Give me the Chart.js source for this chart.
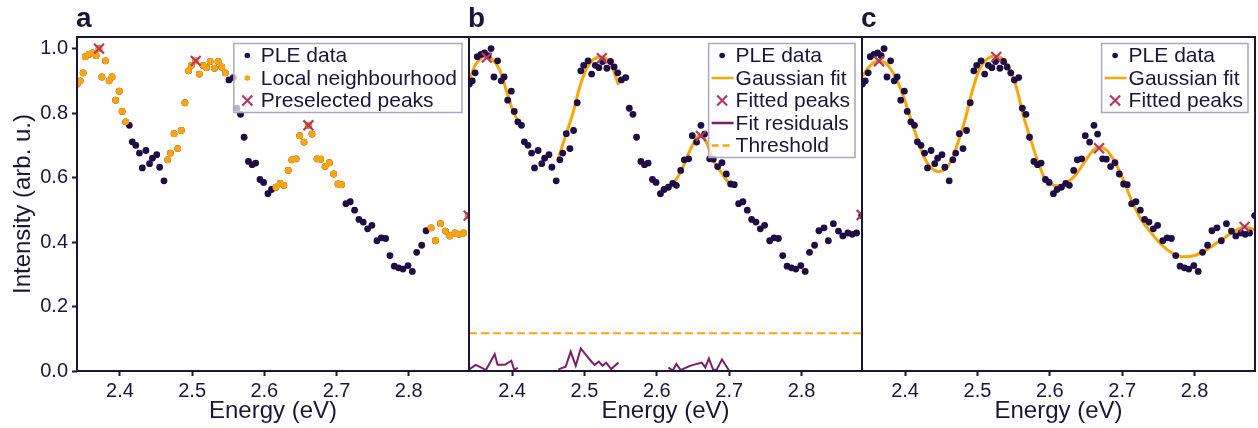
<!DOCTYPE html>
<html>
<head>
<meta charset="utf-8">
<script src="https://cdn.jsdelivr.net/npm/chart.js@4.4.1/dist/chart.umd.min.js"></script>
<style>
  html, body { margin: 0; padding: 0; background: #fff; }
  body { width: 1258px; height: 428px; position: relative; overflow: hidden; }
  canvas { position: absolute; top: 0; }
</style>
</head>
<body>
<canvas id="pa" style="left:0px" width="472" height="428"></canvas>
<canvas id="pb" style="left:466px" width="399" height="428"></canvas>
<canvas id="pc" style="left:859px" width="399" height="428"></canvas>
<script>
// PLE spectrum (same data in all three panels)
const energy = [2.341, 2.345, 2.349, 2.352, 2.357, 2.362, 2.367, 2.371, 2.375, 2.380,
  2.385, 2.389, 2.394, 2.399, 2.403, 2.408, 2.413, 2.417, 2.422, 2.427,
  2.431, 2.436, 2.441, 2.445, 2.451, 2.455, 2.461, 2.466, 2.470, 2.475,
  2.480, 2.485, 2.490, 2.495, 2.499, 2.505, 2.510, 2.515, 2.520, 2.525,
  2.531, 2.536, 2.541, 2.546, 2.551, 2.557, 2.562, 2.567, 2.572, 2.578,
  2.583, 2.588, 2.594, 2.599, 2.605, 2.610, 2.616, 2.622, 2.627, 2.633,
  2.638, 2.644, 2.649, 2.655, 2.661, 2.666, 2.673, 2.678, 2.684, 2.690,
  2.696, 2.702, 2.707, 2.713, 2.719, 2.725, 2.731, 2.737, 2.743, 2.749,
  2.756, 2.762, 2.768, 2.774, 2.780, 2.786, 2.792, 2.799, 2.805, 2.811,
  2.818, 2.824, 2.831, 2.837, 2.844, 2.851, 2.857, 2.864, 2.870, 2.876,
  2.883]
const intensity = [0.890, 0.900, 0.925, 0.975, 0.982, 0.987, 0.978, 1.000, 0.912, 0.962,
  0.900, 0.912, 0.840, 0.868, 0.805, 0.773, 0.762, 0.711, 0.700, 0.676,
  0.630, 0.684, 0.643, 0.660, 0.671, 0.632, 0.590, 0.655, 0.676, 0.736,
  0.690, 0.746, 0.832, 0.931, 0.948, 0.962, 0.921, 0.948, 0.941, 0.960,
  0.939, 0.960, 0.943, 0.925, 0.903, 0.910, 0.815, 0.796, 0.725, 0.650,
  0.640, 0.645, 0.594, 0.585, 0.550, 0.563, 0.570, 0.582, 0.576, 0.622,
  0.655, 0.658, 0.730, 0.710, 0.762, 0.735, 0.658, 0.657, 0.634, 0.646,
  0.611, 0.580, 0.578, 0.519, 0.525, 0.499, 0.470, 0.462, 0.441, 0.452,
  0.404, 0.413, 0.411, 0.358, 0.325, 0.320, 0.316, 0.327, 0.309, 0.368,
  0.390, 0.435, 0.444, 0.404, 0.457, 0.434, 0.419, 0.428, 0.424, 0.428,
  0.482]

// panel a: preselected peaks (indices into the data) and neighbourhood half width
const preselectedIdx = [7, 35, 64, 100]
const neighbourHalf = 8

// panel b: local gaussian fits, fitted peaks, residuals, threshold
const gaussBE = [
  [2.341, 2.348, 2.355, 2.364, 2.373, 2.383, 2.392, 2.401, 2.412],
  [2.464, 2.475, 2.484, 2.493, 2.503, 2.512, 2.524, 2.533, 2.540, 2.547],
  [2.611, 2.623, 2.634, 2.646, 2.656, 2.662, 2.669, 2.678, 2.690, 2.701, 2.708]
]
const gaussBI = [
  [0.902, 0.944, 0.966, 0.977, 0.966, 0.933, 0.871, 0.809, 0.757],
  [0.660, 0.737, 0.799, 0.877, 0.939, 0.966, 0.975, 0.962, 0.933, 0.887],
  [0.563, 0.582, 0.623, 0.685, 0.726, 0.732, 0.706, 0.654, 0.613, 0.580, 0.574]
]
const peaksBE = [2.365, 2.524, 2.661, 2.883]
const peaksBI = [0.972, 0.970, 0.729, 0.484]
const residE = [
  [2.341, 2.350, 2.364, 2.376, 2.380, 2.390, 2.399, 2.403, 2.408],
  [2.464, 2.474, 2.481, 2.488, 2.495, 2.502, 2.509, 2.514, 2.520, 2.525, 2.530, 2.537, 2.547],
  [2.616, 2.622, 2.627, 2.633, 2.646, 2.655, 2.662, 2.667, 2.672, 2.678, 2.683, 2.690, 2.700]
]
const residI = [
  [0.006, 0.019, 0.003, 0.052, 0.019, 0.019, 0.032, 0.003, 0.010],
  [0.005, 0.013, 0.060, 0.016, 0.070, 0.050, 0.031, 0.019, 0.029, 0.016, 0.026, 0.006, 0.026],
  [0.011, 0.001, 0.022, 0.003, 0.016, 0.022, 0.026, 0.011, 0.039, 0.003, 0.005, 0.036, 0.001]
]
const threshold = 0.117

// panel c: global gaussian fit and fitted peaks
const gaussCE = [2.3405, 2.350, 2.361, 2.371, 2.380, 2.389, 2.398, 2.407, 2.417, 2.426,
  2.435, 2.447, 2.456, 2.465, 2.474, 2.484, 2.493, 2.502, 2.511, 2.525,
  2.537, 2.546, 2.555, 2.564, 2.574, 2.583, 2.592, 2.601, 2.613, 2.621,
  2.633, 2.645, 2.656, 2.667, 2.679, 2.690, 2.702, 2.713, 2.727, 2.741,
  2.755, 2.769, 2.785, 2.801, 2.815, 2.829, 2.843, 2.857, 2.868, 2.880, 2.8835]
const gaussCI = [0.912, 0.943, 0.961, 0.958, 0.937, 0.901, 0.850, 0.788, 0.720, 0.664,
  0.633, 0.619, 0.627, 0.658, 0.715, 0.788, 0.870, 0.932, 0.963, 0.977,
  0.963, 0.932, 0.870, 0.788, 0.715, 0.653, 0.602, 0.581, 0.574, 0.581,
  0.602, 0.638, 0.674, 0.695, 0.684, 0.648, 0.591, 0.529, 0.467, 0.426,
  0.390, 0.366, 0.354, 0.359, 0.374, 0.395, 0.416, 0.436, 0.447, 0.441, 0.436]
const peaksCE = [2.364, 2.526, 2.668, 2.869]
const peaksCI = [0.961, 0.974, 0.691, 0.447]

const X_MIN = 2.3405
const X_MAX = 2.8835
const Y_MAX = 1.036

const INK = '#1a1638'
const DOT = '#1f0d45'
const ORANGE = '#fca50a'
const CROSS = '#b5385e'
const RESID = '#7b1e65'
const FAMILY = '"Liberation Sans", Arial, Helvetica, sans-serif'

const pts = (xs, ys) => xs.map((x, i) => ({ x, y: ys[i] }))
const ple = pts(energy, intensity)

const neighbour = []
preselectedIdx.forEach(p => {
  for (let i = p - neighbourHalf; i <= p + neighbourHalf; i++) {
    if (i >= 0 && i < ple.length) neighbour.push(ple[i])
  }
})

const dotSet = (data, color, order) => ({
  data, order, clip: 0, showLine: false,
  pointRadius: 3.4, pointHoverRadius: 3.4, pointBorderWidth: 0,
  backgroundColor: color, borderColor: color
})
const crossSet = data => ({
  data, order: 0, clip: 0, showLine: false,
  pointStyle: 'crossRot', pointRadius: 7, pointHoverRadius: 7,
  borderColor: CROSS, pointBorderWidth: 2.2, borderWidth: 2.2
})
const lineSet = (data, color, width, order, extra) => Object.assign({
  data, order, clip: 0, showLine: true, pointRadius: 0,
  borderColor: color, borderWidth: width, cubicInterpolationMode: 'monotone'
}, extra || {})

// frame, panel letter and in-axes legend
const panelPlugin = {
  id: 'panel',
  afterDatasetsDraw(chart, args, opts) {
    const { ctx, chartArea: a } = chart
    ctx.save()
    ctx.strokeStyle = INK
    ctx.lineWidth = 2
    ctx.strokeRect(a.left, a.top, a.right - a.left, a.bottom - a.top)

    ctx.fillStyle = INK
    ctx.font = 'bold 28px ' + FAMILY
    ctx.textAlign = 'left'
    ctx.textBaseline = 'alphabetic'
    ctx.fillText(opts.letter, a.left - 1, 27)

    const items = opts.items
    ctx.font = '21px ' + FAMILY
    const maxW = Math.max(...items.map(it => ctx.measureText(it.label).width))
    const rowH = 22.5
    const w = 27 + maxW + 5
    const h = (items.length - 1) * rowH + 24
    const x0 = a.right - 7 - w
    const y0 = a.top + 6.5
    ctx.fillStyle = 'rgba(255,255,255,0.7)'
    ctx.fillRect(x0, y0, w, h)
    ctx.strokeStyle = 'rgba(165,163,185,0.95)'
    ctx.lineWidth = 1.5
    ctx.strokeRect(x0, y0, w, h)

    items.forEach((it, i) => {
      const cy = y0 + 12 + i * rowH
      const mx = x0 + 13.5
      if (it.kind === 'dot') {
        ctx.fillStyle = it.color
        ctx.beginPath()
        ctx.arc(mx, cy, 2.8, 0, Math.PI * 2)
        ctx.fill()
      } else if (it.kind === 'cross') {
        ctx.strokeStyle = it.color
        ctx.lineWidth = 2.2
        ctx.beginPath()
        ctx.moveTo(mx - 5, cy - 5); ctx.lineTo(mx + 5, cy + 5)
        ctx.moveTo(mx - 5, cy + 5); ctx.lineTo(mx + 5, cy - 5)
        ctx.stroke()
      } else {
        ctx.strokeStyle = it.color
        ctx.lineWidth = 2.5
        ctx.setLineDash(it.kind === 'dash' ? [7, 4] : [])
        ctx.beginPath()
        ctx.moveTo(x0 + 3, cy); ctx.lineTo(x0 + 25, cy)
        ctx.stroke()
        ctx.setLineDash([])
      }
      ctx.fillStyle = INK
      ctx.textBaseline = 'middle'
      ctx.fillText(it.label, x0 + 27, cy + 1)
    })
    ctx.restore()
  }
}

function makeChart(id, letter, datasets, items, withY) {
  const tickGrid = {
    display: true, drawOnChartArea: false, drawTicks: true,
    tickLength: 5, tickWidth: 2, tickColor: INK, color: INK
  }
  return new Chart(document.getElementById(id), {
    type: 'scatter',
    data: { datasets },
    options: {
      responsive: false,
      animation: false,
      devicePixelRatio: 1,
      events: [],
      layout: {
        autoPadding: false,
        padding: { top: 37, right: 3, left: withY ? 0 : 3, bottom: 0 }
      },
      plugins: {
        legend: { display: false },
        tooltip: { enabled: false },
        panel: { letter, items }
      },
      scales: {
        x: {
          type: 'linear', min: X_MIN, max: X_MAX,
          border: { display: false },
          grid: tickGrid,
          ticks: {
            stepSize: 0.1, includeBounds: false, padding: 3, color: INK,
            maxRotation: 0, autoSkip: false,
            font: { size: 20, family: FAMILY },
            callback: v => v.toFixed(1)
          },
          title: {
            display: true, text: 'Energy (eV)', color: INK,
            font: { size: 24, family: FAMILY, lineHeight: 1 },
            padding: { top: 0, bottom: 5 }
          },
          afterFit: s => { s.height = 57; s.paddingLeft = 0; s.paddingRight = 0 }
        },
        y: {
          type: 'linear', min: 0, max: Y_MAX,
          display: withY,
          border: { display: false },
          grid: tickGrid,
          ticks: {
            stepSize: 0.2, includeBounds: false, padding: 4, color: INK,
            font: { size: 20, family: FAMILY },
            callback: v => v.toFixed(1)
          },
          title: {
            display: true, text: 'Intensity (arb. u.)', color: INK,
            font: { size: 24, family: FAMILY, lineHeight: 1 },
            padding: { top: 11, bottom: 0 }
          },
          afterFit: s => { s.width = withY ? 77 : 0; s.paddingTop = 0; s.paddingBottom = 0 }
        }
      }
    },
    plugins: [panelPlugin]
  })
}

// panel a
makeChart('pa', 'a', [
  crossSet(preselectedIdx.map(i => ple[i])),
  dotSet(neighbour, ORANGE, 1),
  dotSet(ple, DOT, 2)
], [
  { label: 'PLE data', kind: 'dot', color: DOT },
  { label: 'Local neighbourhood', kind: 'dot', color: ORANGE },
  { label: 'Preselected peaks', kind: 'cross', color: CROSS }
], true)

// panel b
const bSets = [crossSet(pts(peaksBE, peaksBI)), dotSet(ple, DOT, 1)]
gaussBE.forEach((xs, k) => bSets.push(lineSet(pts(xs, gaussBI[k]), ORANGE, 3, 2)))
residE.forEach((xs, k) => bSets.push(lineSet(pts(xs, residI[k]), RESID, 2, 3, { cubicInterpolationMode: 'default', tension: 0, clip: 4 })))
bSets.push(lineSet([{ x: X_MIN, y: threshold }, { x: X_MAX, y: threshold }], ORANGE, 2, 3, { borderDash: [8, 4] }))
makeChart('pb', 'b', bSets, [
  { label: 'PLE data', kind: 'dot', color: DOT },
  { label: 'Gaussian fit', kind: 'line', color: ORANGE },
  { label: 'Fitted peaks', kind: 'cross', color: CROSS },
  { label: 'Fit residuals', kind: 'line', color: RESID },
  { label: 'Threshold', kind: 'dash', color: ORANGE }
], false)

// panel c
makeChart('pc', 'c', [
  crossSet(pts(peaksCE, peaksCI)),
  dotSet(ple, DOT, 1),
  lineSet(pts(gaussCE, gaussCI), ORANGE, 3, 2)
], [
  { label: 'PLE data', kind: 'dot', color: DOT },
  { label: 'Gaussian fit', kind: 'line', color: ORANGE },
  { label: 'Fitted peaks', kind: 'cross', color: CROSS }
], false)
</script>
</body>
</html>
